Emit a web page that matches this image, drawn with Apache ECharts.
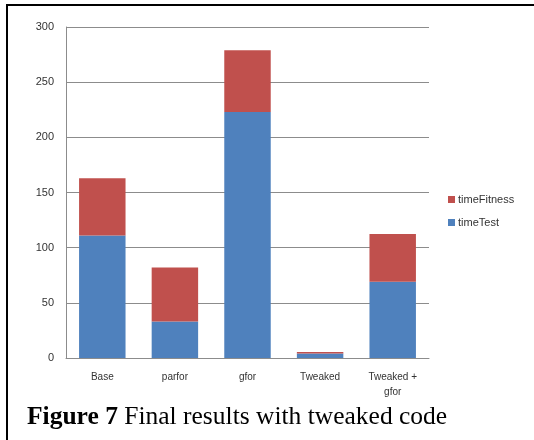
<!DOCTYPE html>
<html>
<head>
<meta charset="utf-8">
<script src="https://cdn.jsdelivr.net/npm/echarts@6/dist/echarts.min.js"></script>
<style>
  html, body { margin: 0; padding: 0; background: #fff; }
  #chart { width: 534px; height: 440px; }
</style>
</head>
<body>
<div id="chart"></div>
<script>
// Run times per variant (stacked: test time + fitness time)
const categories = ['Base', 'parfor', 'gfor', 'Tweaked', 'Tweaked +\ngfor'];
const timeTest = [111, 33, 223, 4, 69];
const timeFitness = [52, 49, 56, 1.5, 43.5];
const yTicks = { min: 0, max: 300, interval: 50 };

const chart = echarts.init(document.getElementById('chart'), null, { renderer: 'canvas' });

chart.setOption({
  animation: false,
  backgroundColor: '#ffffff',
  grid: { left: 66, right: 105, top: 27, bottom: 82 },
  legend: {
    orient: 'vertical',
    left: 448,
    top: 194,
    padding: 0,
    itemWidth: 7,
    itemHeight: 7,
    itemGap: 12,
    icon: 'rect',
    data: ['timeFitness', 'timeTest'],
    textStyle: { fontFamily: 'Liberation Sans', fontSize: 11, color: '#333', padding: [0, 0, 0, -2] }
  },
  xAxis: {
    type: 'category',
    data: categories,
    axisLine: { lineStyle: { color: '#8c8c8c', width: 1 } },
    axisTick: { show: false },
    axisLabel: {
      margin: 12,
      fontFamily: 'Liberation Sans',
      fontSize: 10,
      color: '#333',
      lineHeight: 15,
      interval: 0
    }
  },
  yAxis: {
    type: 'value',
    min: yTicks.min,
    max: yTicks.max,
    interval: yTicks.interval,
    axisLine: { show: true, lineStyle: { color: '#8c8c8c', width: 1 } },
    axisTick: { show: false },
    splitLine: { lineStyle: { color: '#8c8c8c', width: 1 } },
    axisLabel: {
      margin: 12,
      fontFamily: 'Liberation Sans',
      fontSize: 11,
      color: '#333'
    }
  },
  series: [
    {
      name: 'timeTest',
      type: 'bar',
      stack: 'total',
      data: timeTest,
      barWidth: '64%',
      itemStyle: { color: '#4F81BD' }
    },
    {
      name: 'timeFitness',
      type: 'bar',
      stack: 'total',
      data: timeFitness,
      barWidth: '64%',
      itemStyle: { color: '#C0504D' }
    }
  ],
  graphic: [
    // page frame edges
    { type: 'rect', shape: { x: 6, y: 4, width: 528, height: 2 }, style: { fill: '#000' } },
    { type: 'rect', shape: { x: 6, y: 4, width: 2, height: 436 }, style: { fill: '#000' } },
    // caption
    {
      type: 'text',
      left: 27,
      top: 404,
      style: {
        rich: {
          b: { fontFamily: 'Liberation Serif', fontWeight: 'bold', fontSize: 25.5, fill: '#000' },
          n: { fontFamily: 'Liberation Serif', fontSize: 25.5, fill: '#000' }
        },
        text: '{b|Figure 7}{n| Final results with tweaked code}'
      }
    }
  ]
});
</script>
</body>
</html>
